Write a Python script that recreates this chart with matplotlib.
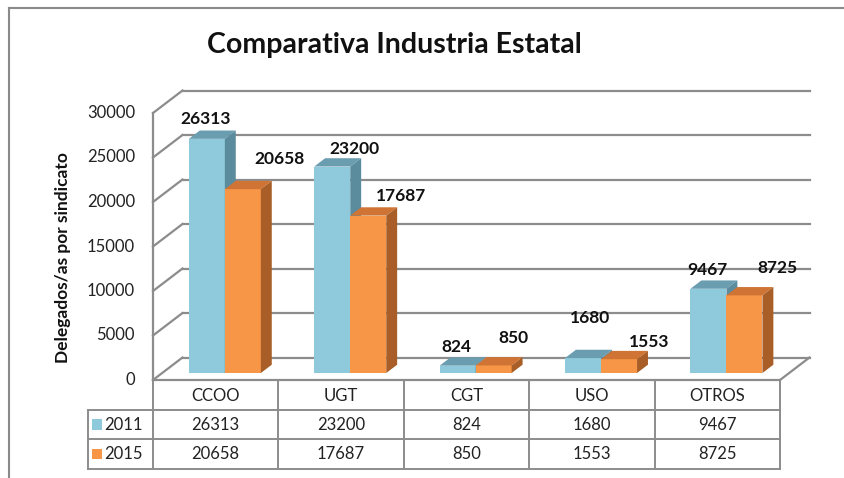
import matplotlib
matplotlib.use("Agg")
import matplotlib.pyplot as plt
from matplotlib.patches import Polygon, Rectangle
from matplotlib.lines import Line2D
import numpy as np

# ---------------- data ----------------
categories = ["CCOO", "UGT", "CGT", "USO", "OTROS"]
series_names = ["2011", "2015"]
values_2011 = [26313, 23200, 824, 1680, 9467]
values_2015 = [20658, 17687, 850, 1553, 8725]
yticks = [0, 5000, 10000, 15000, 20000, 25000, 30000]
title = "Comparativa Industria Estatal"
ylabel = "Delegados/as por sindicato"

# label offsets (pixels, dx right / dy up from top-front-centre of each bar)
label_dx = [[-1, 22, -1, 7, -1], [37, 33, 20, 30, 33]]
label_dy = [[20, 18, 19, 40, 19], [30, 20, 27, 17, 27]]

# ---------------- style ----------------
FONT = ["Lato", "DejaVu Sans"]
front_cols = ["#8ECADB", "#F79646"]
top_cols = ["#6A9DB0", "#CF7434"]
side_cols = ["#5A8C9E", "#A85E26"]
grid_col = "#8C8C8C"
W, H = 845, 478
fig = plt.figure(figsize=(W / 100, H / 100), dpi=100)

# pixel geometry
x0_px, col_px = 153, 125.4          # front-left corner, px per category
y0_px, px_per_unit = 380, 267 / 30000
ax_l, ax_r, ax_t = 60, 840, 60
DX = 29.5 / col_px                   # depth offset in x-units
DY = 22.5 / px_per_unit              # depth offset in value units

ax = fig.add_axes([ax_l / W, (H - y0_px) / H, (ax_r - ax_l) / W, (y0_px - ax_t) / H])
ax.set_xlim((ax_l - x0_px) / col_px, (ax_r - x0_px) / col_px)
ax.set_ylim(0, (y0_px - ax_t) / px_per_unit)
ax.axis("off")

n = len(categories)
ymax = yticks[-1]

# back wall gridlines + side wall diagonals
for v in yticks:
    ax.plot([DX, n + DX], [v + DY, v + DY], color=grid_col, lw=1.6, zorder=1, clip_on=False)
    ax.plot([0, DX], [v, v + DY], color=grid_col, lw=1.6, zorder=1, clip_on=False)
# side wall front edge
ax.plot([0, 0], [0, ymax], color=grid_col, lw=1.6, zorder=1, clip_on=False)
# floor
ax.plot([0, n], [0, 0], color=grid_col, lw=1.6, zorder=1, clip_on=False)
ax.plot([n, n + DX], [0, DY], color=grid_col, lw=1.6, zorder=1, clip_on=False)

# y tick labels
for v in yticks:
    ax.text(-18 / col_px, v, f"{v}", ha="right", va="center", fontsize=12,
            color="#222222", family=FONT, clip_on=False)

# bars
bw = 36 / col_px
d0, d1 = 0.31, 0.68
xs = np.arange(n)
series = [values_2011, values_2015]
z = 3
for i in range(n):
    for s, vals in enumerate(series):
        v = vals[i]
        left = xs[i] + 0.5 - bw + s * bw + d0 * DX
        base = d0 * DY
        ax.bar([left], [v], width=bw, bottom=base, align="edge",
               color=front_cols[s], edgecolor="none", zorder=z, clip_on=False)
        dd = (d1 - d0)
        top_poly = [(left, base + v), (left + bw, base + v),
                    (left + bw + dd * DX, base + v + dd * DY), (left + dd * DX, base + v + dd * DY)]
        side_poly = [(left + bw, base), (left + bw, base + v),
                     (left + bw + dd * DX, base + v + dd * DY), (left + bw + dd * DX, base + dd * DY)]
        ax.add_patch(Polygon(top_poly, closed=True, facecolor=top_cols[s], edgecolor="none",
                             zorder=z, clip_on=False))
        ax.add_patch(Polygon(side_poly, closed=True, facecolor=side_cols[s], edgecolor="none",
                             zorder=z, clip_on=False))
        ax.annotate(f"{v}", (left + bw / 2, base + v),
                    xytext=(label_dx[s][i] * 0.72, label_dy[s][i] * 0.72),
                    textcoords="offset points", ha="center", va="center",
                    fontsize=12.5, fontweight="bold", color="#111111", family=FONT,
                    zorder=10, annotation_clip=False)
        z += 1

# title and y label
fig.text(394 / W, 1 - 45 / H, title, ha="center", va="center", fontsize=20.5,
         fontweight="bold", color="#111111", family=FONT)
fig.text(63 / W, 1 - 258 / H, ylabel, ha="center", va="center", rotation=90,
         fontsize=12.5, fontweight="bold", color="#111111", family=FONT)

# ---------------- data table ----------------
tb_top, tb_bot = 380, 469
tax = fig.add_axes([ax_l / W, (H - tb_bot) / H, (ax_r - ax_l) / W, (tb_bot - tb_top) / H])
tax.set_xlim(ax.get_xlim())
tax.set_ylim(3, 0)
tax.axis("off")
lab_left = (88 - x0_px) / col_px
tc = "#8C8C8C"
# verticals
for k in range(n + 1):
    tax.plot([k, k], [0, 3], color=tc, lw=1.4, clip_on=False)
tax.plot([lab_left, lab_left], [1, 3], color=tc, lw=1.4, clip_on=False)
# horizontals
for r in (1, 2, 3):
    tax.plot([lab_left, n], [r, r], color=tc, lw=1.4, clip_on=False)
# header
for k, c in enumerate(categories):
    tax.text(k + 0.5, 0.55, c, ha="center", va="center", fontsize=12, color="#222222", family=FONT)
for s, vals in enumerate(series):
    r = 1.5 + s
    for k, v in enumerate(vals):
        tax.text(k + 0.5, r, f"{v}", ha="center", va="center", fontsize=12, color="#222222", family=FONT)
    sq = 10 / col_px
    tax.add_patch(Rectangle((lab_left + 4 / col_px, r - 0.17), sq, 0.34,
                            facecolor=front_cols[s], edgecolor="none", clip_on=False))
    tax.text(lab_left + 16 / col_px, r, series_names[s], ha="left", va="center",
             fontsize=12, color="#222222", family=FONT)

# chart border (left and top)
fig.add_artist(Line2D([9 / W, 9 / W], [0, 1 - 8 / H], color="#8A8A8A", lw=1.5))
fig.add_artist(Line2D([9 / W, 1], [1 - 8 / H, 1 - 8 / H], color="#8A8A8A", lw=1.5))

fig.savefig("out.png", dpi=100)
